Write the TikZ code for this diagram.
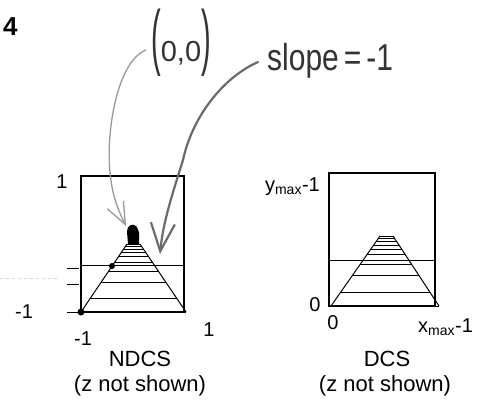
\documentclass[tikz,border=0pt]{standalone}
\usepackage{fontspec}
\usepackage{graphicx}
\setmainfont{Liberation Sans}
\usetikzlibrary{arrows.meta}
\tikzset{
  frame/.style={draw=black, line width=1.3pt},
  rung/.style={draw=black, line width=1pt},
  tick/.style={draw=black, line width=1pt},
  lbl/.style={font=\fontsize{22}{22}\selectfont, inner sep=0pt},
  num/.style={font=\fontsize{20}{20}\selectfont, inner sep=0pt},
  hand/.style={text=black!80, inner sep=0pt},
  pen1/.style={draw=black!40, line width=1.3pt, line cap=round,
    -{Straight Barb[length=22pt,width=18pt]}},
  pen2/.style={draw=black!58, line width=2.2pt, line cap=round,
    -{Straight Barb[length=28pt,width=24pt]}},
  blob/.style={fill=black}
}
\begin{document}
\begin{tikzpicture}[x=1pt,y=-1pt]
\useasboundingbox[fill=white] (0,0) rectangle (478,402);

% faint scan mark
\draw[black!15, line width=0.8pt, dashed] (0,278) -- (58,278);

% ---------------- NDCS ----------------
\draw[frame] (81,176) rectangle (184,312);
\foreach \f in {0,.2,.43,.59,.73,.81,.87,.92,.96,1}
  \draw[rung] ({81+\f*46},{312-\f*68}) -- ({186-\f*46},{312-\f*68});
\draw[rung] (81,312) -- (127,244) (186,312) -- (140,244);
\draw[rung] (81,265) -- (184,265);
\draw[tick] (67,268) -- (79,268) (67,284) -- (79,284) (67,312) -- (81,312);
\fill[blob] (81,312) circle (3.5);
\fill[blob] (112,266) circle (3);
\fill[blob] (128,244) -- (127,232) .. controls (127,226) and (131,224) .. (134,225)
  .. controls (138,226) and (140,232) .. (139,244) -- cycle;

\node[num] (n1) at (62,182) {1};
\node[num] (nm1) at (24,312) {-1};
\node[num] (nbm1) at (83,339) {-1};
\node[num] (nb1) at (209,330) {1};
\node[lbl] (ndcs) at (140,359) {NDCS};
\node[lbl] (nz) at (140,386) {(z not shown)};

% ---------------- DCS ----------------
\draw[frame] (329,173) rectangle (435,306);
\foreach \f in {0,.2,.43,.59,.73,.81,.87,.92,.96,1}
  \draw[rung] ({331+\f*49},{306-\f*70}) -- ({439-\f*46},{306-\f*70});
\draw[rung] (331,306) -- (380,236) (439,306) -- (393,236);
\draw[rung] (329,260) -- (435,260);

\node[num, anchor=east] (ymax) at (320,187) {y\textsubscript{max}-1};
\node[num] (d0l) at (315,305) {0};
\node[num] (d0b) at (333,323) {0};
\node[num, anchor=west] (xmax) at (418,327) {x\textsubscript{max}-1};
\node[lbl] (dcs) at (387,359) {DCS};
\node[lbl] (dz) at (385,386) {(z not shown)};

% ---------------- handwritten notes ----------------
\node[hand, anchor=base west, font=\fontsize{29}{29}\selectfont] (zero) at (151,61)
  {\scalebox{1}[2.5]{(}0,0\scalebox{1}[2.5]{)}};
\node[hand, anchor=base west, font=\fontsize{30}{30}\selectfont] (slope) at (267,70)
  {\scalebox{1}[1.25]{slope\,=\,-1}};
\node[font=\bfseries\fontsize{26}{26}\selectfont, anchor=base west, inner sep=0pt] (four) at (3,35) {4};

\coordinate (s1) at (146,50);
\coordinate (t1) at (126,226);
\coordinate (s2) at (258,62);
\coordinate (t2) at (160,254);
\draw[pen1] (s1) .. controls (116,62) and (106,135) .. (110,172)
  .. controls (112,195) and (118,210) .. (t1);
\draw[pen2] (s2) .. controls (222,78) and (192,118) .. (183,160)
  .. controls (173,192) and (163,222) .. (t2);
\end{tikzpicture}
\end{document}
